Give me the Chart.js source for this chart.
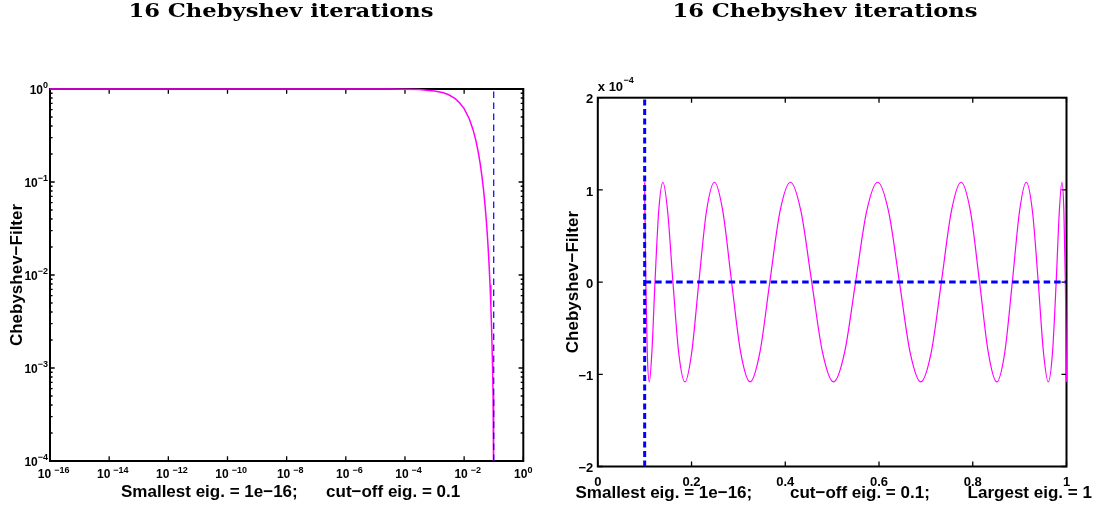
<!DOCTYPE html>
<html>
<head>
<meta charset="utf-8">
<script src="https://cdn.jsdelivr.net/npm/chart.js@4"></script>
<style>
  html, body { margin: 0; padding: 0; background: #fff; overflow: hidden; }
  canvas { position: absolute; left: 0; top: 0; }
</style>
</head>
<body>
<canvas id="filterLog" width="1099" height="509"></canvas>
<canvas id="filterLin" width="1099" height="509"></canvas>
<script>
// ---- data ----------------------------------------------------------------
const TITLE = '16 Chebyshev iterations';
const Y_LABEL = 'Chebyshev\u2212Filter';
const CUTOFF = 0.1;

// left panel: filter value on a log-log scale
const LOG_EIG = [1e-16, 1e-12, 1e-8, 1e-6, 1e-5, 3e-5, 1e-4, 3e-4, 1e-3, 2e-3,
  3e-3, 5e-3, 7e-3, 0.01, 0.015, 0.02, 0.025, 0.03, 0.035, 0.04,
  0.045, 0.05, 0.055, 0.06, 0.065, 0.07, 0.075, 0.08, 0.085, 0.09,
  0.0925, 0.095, 0.097, 0.099, 0.1, 0.101];
const LOG_FILTER = [1, 1, 1, 0.99995, 0.99953, 0.99858, 0.99527, 0.9859, 0.9537, 0.9095,
  0.8673, 0.7874, 0.7128, 0.6145, 0.476, 0.3657, 0.2786, 0.2101, 0.1564, 0.1151,
  0.0837, 0.0597, 0.042, 0.0289, 0.0194, 0.0126, 0.00786, 0.00467, 0.00258, 0.00127,
  0.000838, 0.000512, 0.000316, 0.000167, 0.000108, 0.0000585];
const LOG_X_EXPONENTS = [-16, -14, -12, -10, -8, -6, -4, -2, 0];
const LOG_Y_EXPONENTS = [0, -1, -2, -3, -4];
const LOG_X_LABEL = 'Smallest eig. = 1e\u221216;      cut\u2212off eig. = 0.1';

// right panel: filter value (in units of 1e-4) on linear axes
const LIN_EIG = [0.1, 0.10062, 0.10247, 0.10554, 0.10983, 0.11533, 0.12202, 0.12989, 0.1389, 0.14905,
  0.16029, 0.1726, 0.18594, 0.20028, 0.21559, 0.2318, 0.24889, 0.26681, 0.2855, 0.30491,
  0.325, 0.3457, 0.36697, 0.38873, 0.41094, 0.43353, 0.45644, 0.47961, 0.50296, 0.52645,
  0.55, 0.57355, 0.59704, 0.62039, 0.64356, 0.66647, 0.68906, 0.71127, 0.73303, 0.7543,
  0.775, 0.79509, 0.8145, 0.83319, 0.85111, 0.8682, 0.88441, 0.89972, 0.91406, 0.9274,
  0.93971, 0.95095, 0.9611, 0.97011, 0.97798, 0.98467, 0.99017, 0.99446, 0.99753, 0.99938,
  1.0];
const LIN_FILTER = [1.083, 0.766, 0, -0.766, -1.083, -0.766, 0, 0.766, 1.083, 0.766,
  0, -0.766, -1.083, -0.766, 0, 0.766, 1.083, 0.766, 0, -0.766,
  -1.083, -0.766, 0, 0.766, 1.083, 0.766, 0, -0.766, -1.083, -0.766,
  0, 0.766, 1.083, 0.766, 0, -0.766, -1.083, -0.766, 0, 0.766,
  1.083, 0.766, 0, -0.766, -1.083, -0.766, 0, 0.766, 1.083, 0.766,
  0, -0.766, -1.083, -0.766, 0, 0.766, 1.083, 0.766, 0, -0.766,
  -1.083];
const LIN_X_TICKS = [0, 0.2, 0.4, 0.6, 0.8, 1];
const LIN_Y_TICKS = [2, 1, 0, -1, -2];
const LIN_X_LABEL = 'Smallest eig. = 1e\u221216;        cut\u2212off eig. = 0.1;        Largest eig. = 1';

// ---- drawing helpers -----------------------------------------------------
const SANS = '"Liberation Sans", Arial, Helvetica, sans-serif';
const MAGENTA = '#ff00ff';
const BLUE = '#0000ff';

function minusText(v) {
  return v < 0 ? '\u2212' + String(Math.abs(v)) : String(v);
}

function drawTitle(ctx, text, cx, baseline, width) {
  ctx.save();
  ctx.font = 'bold 18.5px "DejaVu Serif", "Liberation Serif", serif';
  const w = ctx.measureText(text).width;
  ctx.translate(cx, baseline);
  ctx.scale(width / w, 1);
  ctx.fillStyle = '#000';
  ctx.textAlign = 'center';
  ctx.textBaseline = 'alphabetic';
  ctx.fillText(text, 0, 0);
  ctx.restore();
}

function drawVerticalLabel(ctx, text, cx, cy) {
  ctx.save();
  ctx.translate(cx, cy);
  ctx.rotate(-Math.PI / 2);
  ctx.font = 'bold 17px ' + SANS;
  ctx.fillStyle = '#000';
  ctx.textAlign = 'center';
  ctx.textBaseline = 'middle';
  ctx.fillText(text, 0, 0);
  ctx.restore();
}

function drawText(ctx, text, x, y, font, align) {
  ctx.font = font;
  ctx.fillStyle = '#000';
  ctx.textAlign = align;
  ctx.textBaseline = 'alphabetic';
  ctx.fillText(text, x, y);
}

// "10" followed by a raised exponent; anchor is the group centre or right edge
function drawPower(ctx, exp, x, baseY, expY, align, gap) {
  const base = '10';
  const sup = minusText(exp);
  const baseFont = 'bold 12px ' + SANS;
  const supFont = 'bold 9px ' + SANS;
  ctx.font = baseFont;
  const wb = ctx.measureText(base).width;
  ctx.font = supFont;
  const ws = ctx.measureText(sup).width;
  const total = wb + gap + ws;
  const x0 = align === 'right' ? x - total : x - total / 2;
  drawText(ctx, base, x0, baseY, baseFont, 'left');
  drawText(ctx, sup, x0 + wb + gap, expY, supFont, 'left');
}

function drawBox(ctx, a) {
  ctx.save();
  ctx.strokeStyle = '#000';
  ctx.lineWidth = 2;
  ctx.strokeRect(a.left, a.top, a.right - a.left, a.bottom - a.top);
  ctx.restore();
}

// ---- left panel decorations ----------------------------------------------
const logFrame = {
  id: 'logFrame',
  // axes box and tick marks sit underneath the curves
  beforeDatasetsDraw(chart) {
    const { ctx, chartArea: a, scales: { x, y } } = chart;
    ctx.save();
    ctx.strokeStyle = '#000';
    ctx.lineWidth = 1.3;
    ctx.beginPath();
    LOG_X_EXPONENTS.forEach(e => {
      const px = x.getPixelForValue(Math.pow(10, e));
      ctx.moveTo(px, a.bottom); ctx.lineTo(px, a.bottom - 4.7);
      ctx.moveTo(px, a.top); ctx.lineTo(px, a.top + 4.7);
    });
    LOG_Y_EXPONENTS.forEach(e => {
      for (let k = 1; k <= 9; k++) {
        const v = k * Math.pow(10, e);
        if (v > 1.0000001) break;
        const len = k === 1 ? 4.7 : 2.6;
        const py = y.getPixelForValue(v);
        ctx.moveTo(a.left, py); ctx.lineTo(a.left + len, py);
        ctx.moveTo(a.right, py); ctx.lineTo(a.right - len, py);
      }
    });
    ctx.stroke();
    ctx.restore();
    drawBox(ctx, a);
  },
  afterDraw(chart) {
    const { ctx, chartArea: a, scales: { x, y } } = chart;
    LOG_X_EXPONENTS.forEach(e => {
      const px = x.getPixelForValue(Math.pow(10, e));
      drawPower(ctx, e, px + (e < 0 ? 3.6 : 0), a.bottom + 17.3, a.bottom + 11.7, 'center', e < 0 ? 3 : 0);
    });
    LOG_Y_EXPONENTS.forEach(e => {
      const py = y.getPixelForValue(Math.pow(10, e));
      drawPower(ctx, e, a.left - 2, py + 4.5, py - 1.5, 'right', 0);
    });

    drawTitle(ctx, TITLE, 281, 16.7, 305);
    drawVerticalLabel(ctx, Y_LABEL, 17.5, (a.top + a.bottom) / 2);
    drawText(ctx, LOG_X_LABEL, 121, 496.5, 'bold 17px ' + SANS, 'left');
  }
};

// ---- right panel decorations ---------------------------------------------
const linFrame = {
  id: 'linFrame',
  beforeDatasetsDraw(chart) {
    const { ctx, chartArea: a, scales: { x, y } } = chart;
    ctx.save();
    ctx.strokeStyle = '#000';
    ctx.lineWidth = 1.3;
    ctx.beginPath();
    LIN_X_TICKS.forEach(v => {
      const px = x.getPixelForValue(v);
      ctx.moveTo(px, a.bottom); ctx.lineTo(px, a.bottom - 5);
      ctx.moveTo(px, a.top); ctx.lineTo(px, a.top + 5);
    });
    LIN_Y_TICKS.forEach(v => {
      const py = y.getPixelForValue(v);
      ctx.moveTo(a.left, py); ctx.lineTo(a.left + 5, py);
      ctx.moveTo(a.right, py); ctx.lineTo(a.right - 5, py);
    });
    ctx.stroke();
    ctx.restore();
    drawBox(ctx, a);
  },
  afterDraw(chart) {
    const { ctx, chartArea: a, scales: { x, y } } = chart;
    const tickFont = 'bold 13px ' + SANS;
    LIN_X_TICKS.forEach(v => {
      drawText(ctx, String(v), x.getPixelForValue(v), a.bottom + 19, tickFont, 'center');
    });
    LIN_Y_TICKS.forEach(v => {
      drawText(ctx, minusText(v), a.left - 4.5, y.getPixelForValue(v) + 5.6, tickFont, 'right');
    });
    // axis multiplier
    drawText(ctx, 'x 10', a.left, a.top - 6.5, tickFont, 'left');
    ctx.font = tickFont;
    const wm = ctx.measureText('x 10').width;
    drawText(ctx, '\u22124', a.left + wm + 0.5, a.top - 14.5, 'bold 9px ' + SANS, 'left');

    drawTitle(ctx, TITLE, 825, 16.7, 305);
    drawVerticalLabel(ctx, Y_LABEL, 573, (a.top + a.bottom) / 2);
    drawText(ctx, LIN_X_LABEL, 575.5, 498, 'bold 17px ' + SANS, 'left');
  }
};

// ---- charts --------------------------------------------------------------
const common = {
  responsive: false,
  animation: false,
  devicePixelRatio: 1,
  events: [],
  plugins: { legend: { display: false }, tooltip: { enabled: false } }
};

new Chart(document.getElementById('filterLog'), {
  type: 'scatter',
  data: {
    datasets: [
      {
        label: 'cut-off',
        data: [{ x: CUTOFF, y: 1e-4 }, { x: CUTOFF, y: 1 }],
        showLine: true, borderColor: BLUE, borderWidth: 1.2, borderDash: [6.5, 4.5],
        pointRadius: 0
      },
      {
        label: 'filter',
        data: LOG_EIG.map((v, i) => ({ x: v, y: LOG_FILTER[i] })),
        showLine: true, borderColor: MAGENTA, borderWidth: 1.5, pointRadius: 0, tension: 0,
        clip: { left: 2, top: 2, right: 2, bottom: 0 }
      }
    ]
  },
  options: Object.assign({}, common, {
    layout: { padding: { left: 50, top: 89, right: 1099 - 523.3, bottom: 509 - 461 } },
    scales: {
      x: { type: 'logarithmic', min: 1e-16, max: 1, display: false },
      y: { type: 'logarithmic', min: 1e-4, max: 1, display: false }
    }
  }),
  plugins: [logFrame]
});

new Chart(document.getElementById('filterLin'), {
  type: 'scatter',
  data: {
    datasets: [
      {
        label: 'cut-off',
        data: [{ x: CUTOFF, y: -2 }, { x: CUTOFF, y: 2 }],
        showLine: true, borderColor: BLUE, borderWidth: 3, borderDash: [6, 3.5],
        pointRadius: 0
      },
      {
        label: 'zero',
        data: [{ x: CUTOFF, y: 0 }, { x: 1, y: 0 }],
        showLine: true, borderColor: BLUE, borderWidth: 3, borderDash: [6.5, 4],
        pointRadius: 0
      },
      {
        label: 'filter',
        data: LIN_EIG.map((v, i) => ({ x: v, y: LIN_FILTER[i] })),
        showLine: true, borderColor: MAGENTA, borderWidth: 1.2, pointRadius: 0,
        cubicInterpolationMode: 'monotone',
        clip: { left: 2, top: 2, right: 2, bottom: 2 }
      }
    ]
  },
  options: Object.assign({}, common, {
    layout: { padding: { left: 597.8, top: 97.7, right: 1099 - 1066.5, bottom: 509 - 466.5 } },
    scales: {
      x: { type: 'linear', min: 0, max: 1, display: false },
      y: { type: 'linear', min: -2, max: 2, display: false }
    }
  }),
  plugins: [linFrame]
});
</script>
</body>
</html>
